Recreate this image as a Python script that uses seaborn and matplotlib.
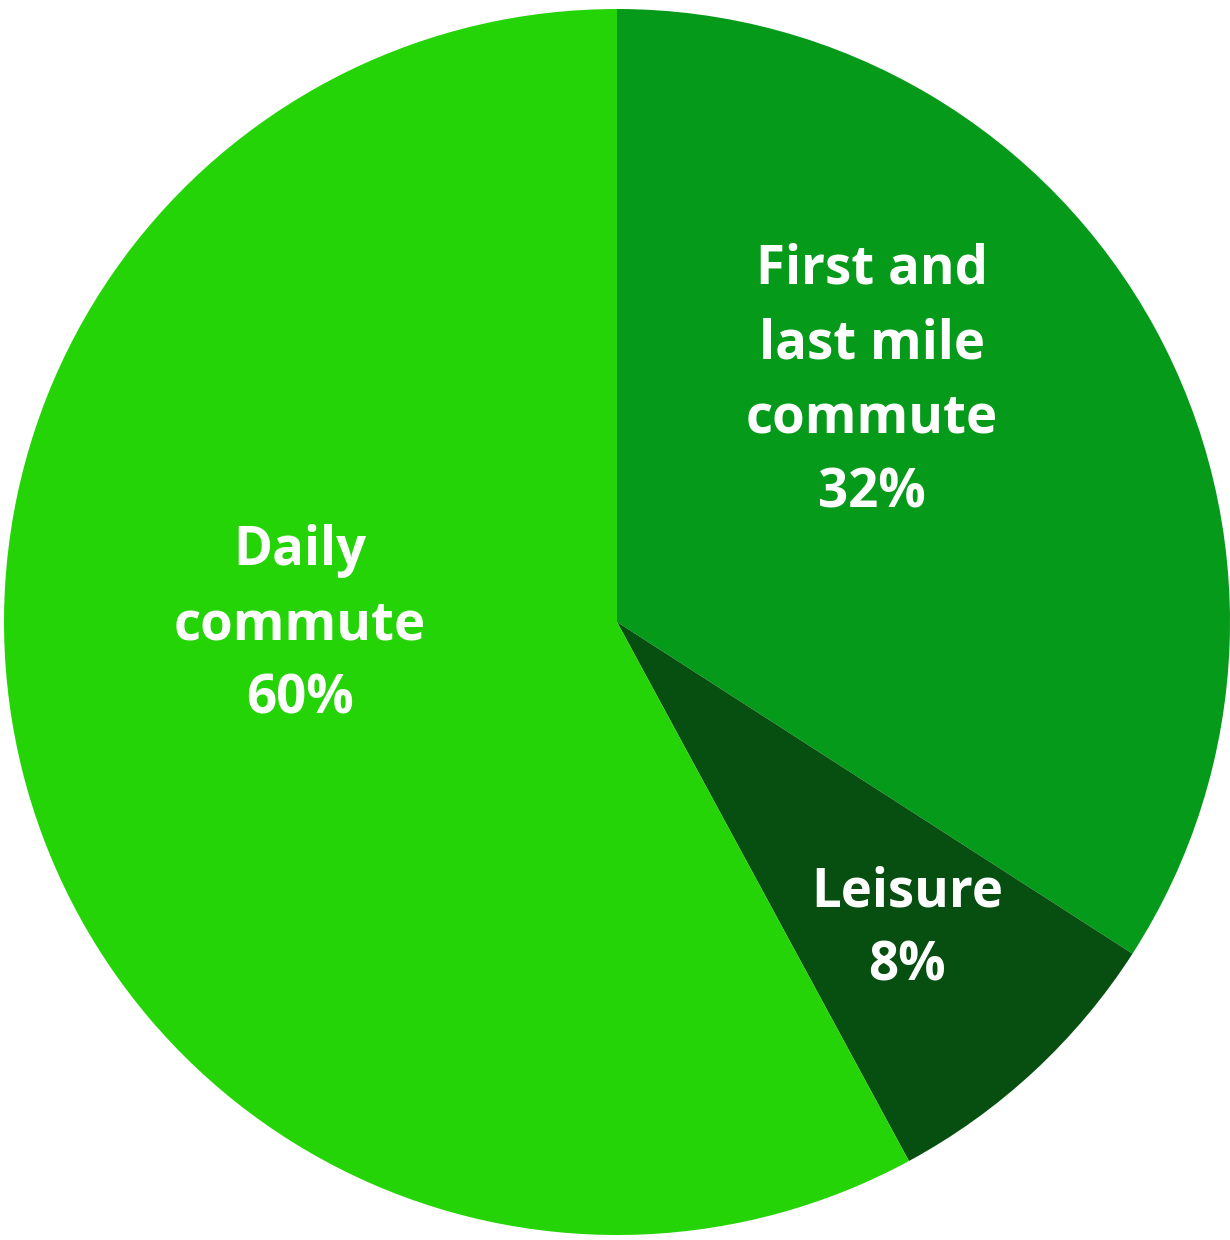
import numpy as np
import matplotlib
matplotlib.use("Agg")
import matplotlib.pyplot as plt
import seaborn as sns

# slice data (clockwise from 12 o'clock)
categories = ["First and\nlast mile\ncommute", "Leisure", "Daily\ncommute"]
slice_sizes = [34.1, 8.0, 57.9]   # measured angular share in the picture
label_pct = [32, 8, 60]           # percentages printed on the slices
colors = ["#069A1A", "#064F10", "#25D406"]

# label anchor points, in units of the pie radius
label_xy = [(0.416, 0.392), (0.473, -0.502), (-0.517, -0.005)]

sns.set_theme(style="white")
plt.rcParams["font.family"] = ["Open Sans", "DejaVu Sans"]

fig = plt.figure(figsize=(12.3, 12.4), dpi=100)
ax = fig.add_axes([0, 0, 1, 1])

ax.pie(slice_sizes, colors=colors, startangle=90, counterclock=False,
       radius=1.0, center=(0, 0), frame=False,
       wedgeprops=dict(linewidth=0))

for name, pct, (x, y) in zip(categories, label_pct, label_xy):
    ax.text(x, y, f"{name}\n{pct}%", ha="center", va="center",
            color="white", fontsize=38, fontweight="bold", linespacing=1.5)

ax.set_xlim(-617 / 613, (1230 - 617) / 613)
ax.set_ylim(-(1240 - 622) / 613, 622 / 613)
ax.set_aspect("auto")
ax.axis("off")

fig.savefig("out.png", dpi=100)
